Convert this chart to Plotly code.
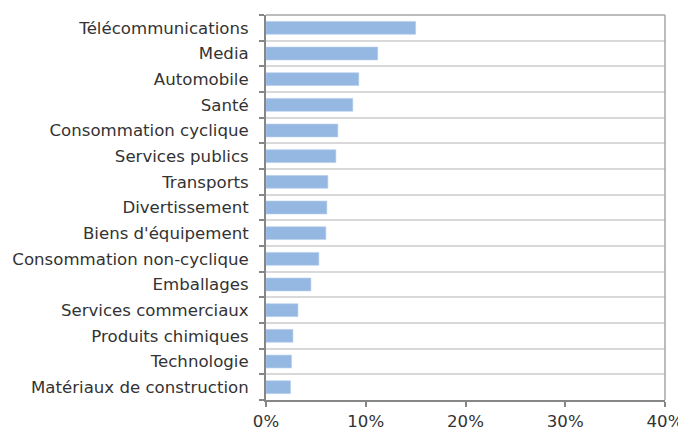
import plotly.graph_objects as go

# Sector weights (%), listed top to bottom as displayed
sectors = [
    "Télécommunications", "Media", "Automobile", "Santé", "Consommation cyclique",
    "Services publics", "Transports", "Divertissement", "Biens d'équipement",
    "Consommation non-cyclique", "Emballages", "Services commerciaux",
    "Produits chimiques", "Technologie", "Matériaux de construction",
]
weights = [15.0, 11.2, 9.3, 8.7, 7.2, 7.0, 6.2, 6.1, 6.0, 5.3, 4.5, 3.2, 2.7, 2.55, 2.45]
x_ticks = [0, 10, 20, 30, 40]
x_labels = ["0%", "10%", "20%", "30%", "40%"]

BAR = "#95B8E3"
AXIS = "#868686"
GRID = "#D9D9D9"
BORDER = "#A6A6A6"
TEXT = "#333333"
FONT = "DejaVu Sans, sans-serif"
SIZE = 16.6

fig = go.Figure(
    go.Bar(
        x=weights[::-1],
        y=sectors[::-1],
        orientation="h",
        marker=dict(color=BAR, line=dict(color="#B4CDEC", width=0.6)),
        width=0.5,
        hoverinfo="x+y",
    )
)

# page body has an 8px margin, so the figure is sized to the visible area
fig.update_layout(
    width=678,
    height=422,
    paper_bgcolor="white",
    plot_bgcolor="white",
    font=dict(family=FONT, size=SIZE, color=TEXT),
    margin=dict(l=258, r=21, t=7, b=30, autoexpand=False),
    showlegend=False,
    xaxis=dict(
        range=[0, 40],
        tickvals=x_ticks,
        ticktext=x_labels,
        showgrid=False,
        zeroline=False,
        showline=True,
        linecolor=AXIS,
        linewidth=1.5,
        ticks="outside",
        ticklen=5,
        tickcolor=AXIS,
        tickwidth=1.5,
        tickfont=dict(size=SIZE, color=TEXT),
    ),
    yaxis=dict(
        tickson="boundaries",
        showgrid=True,
        gridcolor=GRID,
        gridwidth=1.5,
        showline=True,
        linecolor=AXIS,
        linewidth=2,
        ticks="outside",
        ticklen=5,
        tickcolor=AXIS,
        tickwidth=1.5,
        ticklabelstandoff=12,
        tickfont=dict(size=SIZE, color=TEXT),
    ),
    shapes=[
        dict(type="line", xref="x domain", yref="y domain", x0=0, x1=1, y0=1, y1=1,
             line=dict(color=BORDER, width=1.5)),
        dict(type="line", xref="x domain", yref="y domain", x0=1, x1=1, y0=0, y1=1,
             line=dict(color=BORDER, width=1.5)),
    ],
)

fig.write_html("out.html")
